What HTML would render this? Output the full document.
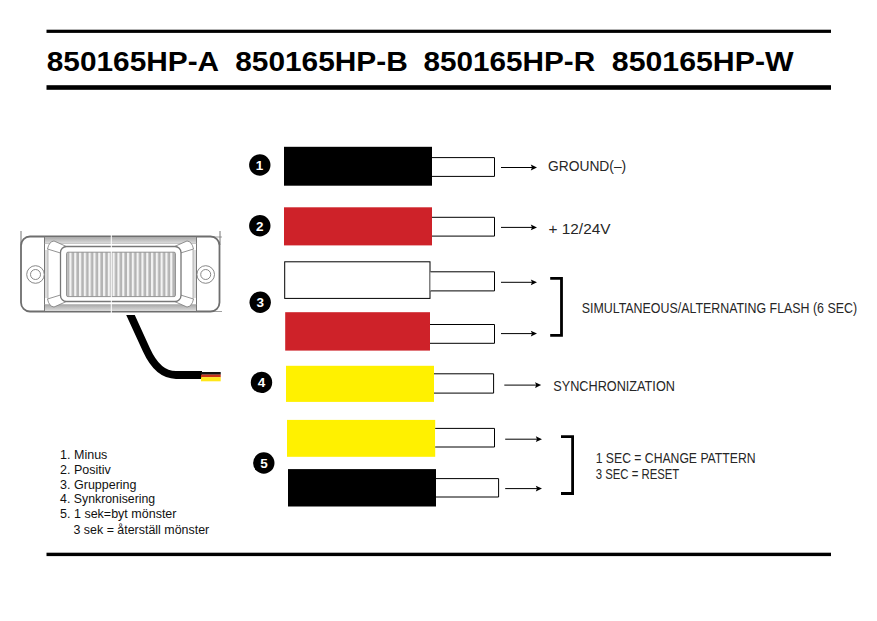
<!DOCTYPE html>
<html>
<head>
<meta charset="utf-8">
<title>850165HP wiring</title>
<style>
html,body{margin:0;padding:0;background:#fff;}
body{width:877px;height:621px;overflow:hidden;position:relative;font-family:"Liberation Sans",sans-serif;}
svg{position:absolute;left:0;top:0;display:block;}
text{font-family:"Liberation Sans",sans-serif;}
.h{font-weight:bold;font-size:28.4px;fill:#000;}
.l{font-size:14.8px;fill:#262626;}
.s{font-size:12.5px;fill:#111;}
.n{font-weight:bold;font-size:13.5px;fill:#fff;text-anchor:middle;}
</style>
</head>
<body>
<svg width="877" height="621" viewBox="0 0 877 621">
<defs>
<linearGradient id="gb" x1="0" y1="0" x2="0" y2="1">
<stop offset="0" stop-color="#a8a8a8"/><stop offset="1" stop-color="#dcdcdc"/>
</linearGradient>
<pattern id="st" x="66.5" y="0" width="4.8" height="10" patternUnits="userSpaceOnUse">
<rect x="0" y="0" width="4.8" height="10" fill="#f4f4f4"/>
<rect x="0.3" y="0" width="2.6" height="10" fill="#b4b4b4"/>
</pattern>
</defs>
<rect x="0" y="0" width="877" height="621" fill="#fff"/>

<!-- header rules -->
<rect x="46.5" y="29.7" width="784.5" height="3.2" fill="#000"/>
<rect x="46.5" y="85.2" width="784.5" height="4.6" fill="#000"/>
<rect x="46.5" y="552.7" width="784.5" height="3.4" fill="#000"/>

<!-- header text -->
<text class="h" x="46.8" y="70.7" textLength="172.3" lengthAdjust="spacingAndGlyphs">850165HP-A</text>
<text class="h" x="235.2" y="70.7" textLength="172.6" lengthAdjust="spacingAndGlyphs">850165HP-B</text>
<text class="h" x="423.5" y="70.7" textLength="171.6" lengthAdjust="spacingAndGlyphs">850165HP-R</text>
<text class="h" x="611.8" y="70.7" textLength="181.8" lengthAdjust="spacingAndGlyphs">850165HP-W</text>

<!-- lamp drawing -->
<g id="lamp" fill="none" stroke="#777" stroke-width="1">
<line x1="21" y1="231" x2="21" y2="245"/>
<line x1="220" y1="231" x2="220" y2="245"/>
<line x1="213" y1="237" x2="222" y2="237" stroke-width="0.7"/>
<line x1="205" y1="311.5" x2="222" y2="311.5" stroke-width="0.7"/>
<rect x="21" y="236.5" width="198.5" height="75" rx="9" ry="9" fill="#fff" stroke="#6e6e6e" stroke-width="1.8"/>
<rect x="44.5" y="237" width="152" height="6.3" fill="url(#gb)" stroke="none"/>
<rect x="44.5" y="304.6" width="152" height="6.4" fill="url(#gb)" stroke="none"/>
<line x1="44.5" y1="236.5" x2="44.5" y2="311.5" stroke="#777"/>
<line x1="196.5" y1="236.5" x2="196.5" y2="311.5" stroke="#777"/>
<rect x="45" y="250" width="3" height="48" fill="#ddd" stroke="none"/>
<rect x="193" y="250" width="3" height="48" fill="#ddd" stroke="none"/>
<line x1="48" y1="249" x2="48" y2="299" stroke="#999" stroke-width="0.7"/>
<line x1="193" y1="249" x2="193" y2="299" stroke="#999" stroke-width="0.7"/>
<line x1="44.5" y1="243.5" x2="196.5" y2="243.5" stroke="#aaa" stroke-width="0.6"/>
<line x1="44.5" y1="304.5" x2="196.5" y2="304.5" stroke="#aaa" stroke-width="0.6"/>
<!-- gussets -->
<path d="M47.5 249 Q49 241.500 54 241 L66.500 246.500 Q61 247.500 60.500 253 Z" fill="#fff" stroke="#777" stroke-width="0.8"/>
<path d="M193.500 249 Q192 241.500 187 241 L174.500 246.500 Q180 247.500 180.500 253 Z" fill="#fff" stroke="#777" stroke-width="0.8"/>
<path d="M47.5 299 Q49 306.500 54 307 L66.500 301.500 Q61 300.500 60.500 295 Z" fill="#fff" stroke="#777" stroke-width="0.8"/>
<path d="M193.500 299 Q192 306.500 187 307 L174.500 301.500 Q180 300.500 180.500 295 Z" fill="#fff" stroke="#777" stroke-width="0.8"/>
<!-- inner frame -->
<rect x="60.5" y="246.5" width="120.5" height="55" rx="6" ry="6" fill="#fff" stroke="#777" stroke-width="1.3"/>
<!-- lens -->
<rect x="66.5" y="252.2" width="109" height="44.4" rx="1.5" fill="url(#st)" stroke="#8a8a8a" stroke-width="0.9"/>
<!-- screw holes -->
<circle cx="35.5" cy="274.5" r="8.8" stroke="#7a7a7a" stroke-width="0.9" fill="#fff"/>
<circle cx="35.5" cy="274.5" r="5" stroke="#7a7a7a" stroke-width="0.9"/>
<circle cx="205.7" cy="274.5" r="8.8" stroke="#7a7a7a" stroke-width="0.9" fill="#fff"/>
<circle cx="205.7" cy="274.5" r="5" stroke="#7a7a7a" stroke-width="0.9"/>
<!-- seam -->
<line x1="111.3" y1="232" x2="111.3" y2="314" stroke="#fff" stroke-width="1"/>
</g>

<!-- cable -->
<clipPath id="cc"><rect x="100" y="315" width="130" height="80"/></clipPath>
<path d="M128.200 310 L146.500 350 Q157.900 375 176 375 L202 375" fill="none" stroke="#000" stroke-width="7.800" clip-path="url(#cc)"/>
<rect x="201" y="372" width="19.700" height="2.700" fill="#111"/>
<rect x="201" y="374.600" width="19.700" height="2.700" fill="#c8321a"/>
<rect x="201" y="377.200" width="19.700" height="4.100" fill="#ffe61a"/>

<!-- colour bars -->
<rect x="284" y="146.800" width="148" height="38.900" fill="#000"/>
<rect x="284" y="207.300" width="148" height="38.100" fill="#ce2229"/>
<rect x="284.700" y="261.800" width="145.300" height="36.600" fill="#fff" stroke="#000" stroke-width="1"/>
<rect x="285.200" y="312.200" width="144.800" height="38.400" fill="#ce2229"/>
<rect x="286" y="365.800" width="148" height="36.100" fill="#fff100"/>
<rect x="287" y="419.900" width="148.200" height="36.900" fill="#fff100"/>
<rect x="288" y="469.100" width="148" height="37.400" fill="#000"/>

<!-- bare wire ends -->
<g fill="#fff" stroke="#000" stroke-width="1">
<path d="M432 157.600 H494.500 V176.400 H432"/>
<path d="M432 217.300 H494.500 V236.100 H432"/>
<path d="M430.500 271.800 H494.500 V290.900 H430.500"/>
<path d="M430 324.500 H494.500 V343.300 H430"/>
<path d="M434 373.800 H493.600 V393.100 H434"/>
<path d="M435.200 428.400 H494.500 V447 H435.200"/>
<path d="M436 478.600 H498.600 V497 H436"/>
</g>

<!-- arrows -->
<g stroke="#000" stroke-width="1" fill="#000">
<path d="M501.0 167.5 H534.0"/><path d="M537.0 167.5 l-6.2 -2.9 l1.2 2.9 l-1.2 2.9 z" stroke="none"/>
<path d="M501.0 227.4 H534.0"/><path d="M537.0 227.4 l-6.2 -2.9 l1.2 2.9 l-1.2 2.9 z" stroke="none"/>
<path d="M501.0 282.3 H534.0"/><path d="M537.0 282.3 l-6.2 -2.9 l1.2 2.9 l-1.2 2.9 z" stroke="none"/>
<path d="M501.0 333.6 H534.0"/><path d="M537.0 333.6 l-6.2 -2.9 l1.2 2.9 l-1.2 2.9 z" stroke="none"/>
<path d="M504.3 385.1 H538.2"/><path d="M541.2 385.1 l-6.2 -2.9 l1.2 2.9 l-1.2 2.9 z" stroke="none"/>
<path d="M505.2 439.2 H539.0"/><path d="M542.0 439.2 l-6.2 -2.9 l1.2 2.9 l-1.2 2.9 z" stroke="none"/>
<path d="M505.2 488.6 H539.0"/><path d="M542.0 488.6 l-6.2 -2.9 l1.2 2.9 l-1.2 2.9 z" stroke="none"/>
</g>

<!-- brackets -->
<path d="M550.2 278.4 H561.5 V335.4 H550.2" fill="none" stroke="#000" stroke-width="2.8"/>
<path d="M561 436.6 H572.600 V493.500 H561" fill="none" stroke="#000" stroke-width="2.8"/>

<!-- numbered bullets -->
<circle cx="259.800" cy="165" r="10.700" fill="#000"/>
<circle cx="259.800" cy="225.700" r="10.700" fill="#000"/>
<circle cx="260.200" cy="302.200" r="10.700" fill="#000"/>
<circle cx="261.500" cy="382.400" r="10.700" fill="#000"/>
<circle cx="263.800" cy="463" r="10.700" fill="#000"/>
<text class="n" x="259.600" y="170">1</text>
<text class="n" x="259.800" y="230.700">2</text>
<text class="n" x="260.200" y="307.200">3</text>
<text class="n" x="261.500" y="387.400">4</text>
<text class="n" x="264" y="468.200">5</text>

<!-- right labels -->
<text class="l" x="548" y="171" textLength="78.200" lengthAdjust="spacingAndGlyphs">GROUND(–)</text>
<text class="l" x="548.500" y="233.700" textLength="62" lengthAdjust="spacingAndGlyphs">+ 12/24V</text>
<text class="l" x="581.700" y="313.200" textLength="275.400" lengthAdjust="spacingAndGlyphs">SIMULTANEOUS/ALTERNATING FLASH (6 SEC)</text>
<text class="l" x="553.300" y="391" textLength="121.600" lengthAdjust="spacingAndGlyphs">SYNCHRONIZATION</text>
<text class="l" x="595.700" y="463" textLength="159.800" lengthAdjust="spacingAndGlyphs">1 SEC = CHANGE PATTERN</text>
<text class="l" x="595.700" y="479" textLength="83.600" lengthAdjust="spacingAndGlyphs">3 SEC = RESET</text>

<!-- legend -->
<text class="s" x="60.100" y="458.500">1. Minus</text>
<text class="s" x="60.100" y="473.600">2. Positiv</text>
<text class="s" x="60.100" y="488.600">3. Gruppering</text>
<text class="s" x="60.100" y="503.400" textLength="95.100" lengthAdjust="spacingAndGlyphs">4. Synkronisering</text>
<text class="s" x="60.100" y="518.300">5. 1 sek=byt mönster</text>
<text class="s" x="73.500" y="533.500" textLength="135.700" lengthAdjust="spacingAndGlyphs">3 sek = återställ mönster</text>
</svg>
</body>
</html>
